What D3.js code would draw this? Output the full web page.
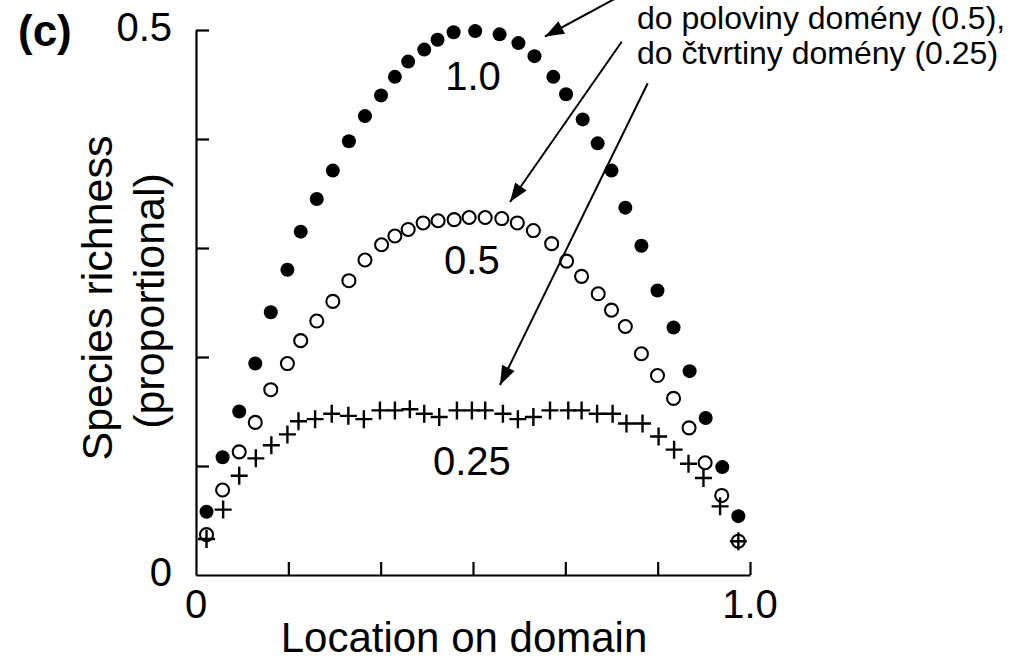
<!DOCTYPE html>
<html>
<head>
<meta charset="utf-8">
<script src="https://cdn.jsdelivr.net/npm/d3@7"></script>
<style>
  html, body { margin: 0; padding: 0; background: #fff; }
  svg { display: block; }
  text { font-family: "Liberation Sans", Arial, sans-serif; fill: #000; }
</style>
</head>
<body>
<svg id="chart" width="1013" height="662"></svg>
<script>
// ---- Data ----
// Range size 1.0 (filled circles)
const locFull = [0.019,0.048,0.078,0.107,0.135,0.165,0.189,0.218,0.247,0.276,0.305,0.334,0.359,0.383,0.412,0.436,0.465,0.504,0.548,0.582,0.611,0.645,0.668,0.698,0.725,0.750,0.775,0.804,0.833,0.862,0.891,0.920,0.950,0.979];
const richFull = [0.058,0.108,0.150,0.194,0.241,0.280,0.315,0.345,0.371,0.398,0.421,0.440,0.457,0.471,0.482,0.491,0.498,0.499,0.496,0.488,0.476,0.457,0.441,0.418,0.396,0.371,0.337,0.302,0.261,0.227,0.187,0.144,0.099,0.054];
// Range size 0.5 (open circles)
const locHalf = [0.019,0.048,0.078,0.107,0.135,0.165,0.189,0.218,0.247,0.276,0.305,0.335,0.359,0.383,0.410,0.437,0.466,0.493,0.522,0.552,0.580,0.609,0.642,0.669,0.696,0.726,0.750,0.775,0.804,0.833,0.862,0.890,0.919,0.949,0.979];
const richHalf = [0.037,0.078,0.113,0.140,0.170,0.194,0.215,0.233,0.251,0.270,0.289,0.303,0.311,0.317,0.323,0.325,0.326,0.328,0.328,0.327,0.323,0.316,0.304,0.288,0.274,0.258,0.243,0.228,0.203,0.183,0.162,0.135,0.103,0.073,0.031];
// Range size 0.25 (crosses)
const locQuarter = [0.019,0.049,0.078,0.108,0.136,0.165,0.185,0.215,0.245,0.275,0.303,0.332,0.359,0.386,0.412,0.439,0.471,0.498,0.522,0.554,0.581,0.609,0.639,0.672,0.696,0.724,0.752,0.777,0.806,0.835,0.863,0.889,0.916,0.946,0.979];
const richQuarter = [0.033,0.060,0.091,0.107,0.119,0.129,0.141,0.143,0.148,0.146,0.143,0.151,0.151,0.152,0.148,0.145,0.151,0.151,0.151,0.148,0.143,0.145,0.151,0.151,0.151,0.148,0.148,0.139,0.139,0.127,0.115,0.102,0.089,0.063,0.031];

const yTickValues = [0.1, 0.2, 0.3, 0.4, 0.5];
const xTickValues = [1/6, 2/6, 3/6, 4/6, 5/6, 1];
const yTickLabels = [{v: 0, t: "0"}, {v: 0.5, t: "0.5"}];
const xTickLabels = [{v: 0, t: "0"}, {v: 1, t: "1.0"}];
const curveLabels = [
  {x: 0.50, y: 0.445, t: "1.0"},
  {x: 0.498, y: 0.276, t: "0.5"},
  {x: 0.498, y: 0.092, t: "0.25"}
];
const noteLines = ["do poloviny domény (0.5),", "do čtvrtiny domény (0.25)"];

// ---- Scales ----
const svg = d3.select("#chart");
const x = d3.scaleLinear().domain([0, 1]).range([196, 750]);
const y = d3.scaleLinear().domain([0, 0.5]).range([575, 30]);

// ---- Axes ----
const yAxis = d3.axisLeft(y).tickValues(yTickValues).tickSizeInner(-13).tickSizeOuter(0).tickFormat("");
const xAxis = d3.axisBottom(x).tickValues(xTickValues).tickSizeInner(-13).tickSizeOuter(0).tickFormat("");

const gy = svg.append("g").attr("transform", "translate(196,0)").call(yAxis);
const gx = svg.append("g").attr("transform", "translate(0,575)").call(xAxis);
[gy, gx].forEach(g => {
  g.select(".domain").attr("stroke", "#000").attr("stroke-width", 2.2);
  g.selectAll(".tick line").attr("stroke", "#000").attr("stroke-width", 2.2);
});

// tick labels
svg.append("g").selectAll("text").data(yTickLabels).join("text")
  .attr("x", 172).attr("y", d => y(d.v) + 11)
  .attr("text-anchor", "end").attr("font-size", 40).text(d => d.t);
svg.append("g").selectAll("text").data(xTickLabels).join("text")
  .attr("x", d => x(d.v)).attr("y", 618)
  .attr("text-anchor", "middle").attr("font-size", 40).text(d => d.t);

// axis titles
svg.append("text").attr("x", 464).attr("y", 652).attr("text-anchor", "middle")
  .attr("font-size", 42).text("Location on domain");
svg.append("text").attr("transform", "translate(112,298) rotate(-90)").attr("text-anchor", "middle")
  .attr("font-size", 43).text("Species richness");
svg.append("text").attr("transform", "translate(164,301) rotate(-90)").attr("text-anchor", "middle")
  .attr("font-size", 43).text("(proportional)");

// panel label
svg.append("text").attr("x", 18).attr("y", 46).attr("font-size", 44).attr("font-weight", "bold").text("(c)");

// ---- Arrows ----
const defs = svg.append("defs");
defs.append("marker").attr("id", "ah").attr("markerUnits", "userSpaceOnUse")
  .attr("viewBox", "-20 -8 22 16").attr("refX", 0).attr("refY", 0)
  .attr("markerWidth", 22).attr("markerHeight", 16).attr("orient", "auto")
  .append("path").attr("d", "M0,0L-19,-7L-19,7Z").attr("fill", "#000");

const arrows = [
  [[620, -4], [545, 36.5]],
  [[621.7, 41.7], [510, 202]],
  [[647.7, 83.3], [500, 385]]
];
svg.append("g").selectAll("line").data(arrows).join("line")
  .attr("x1", d => d[0][0]).attr("y1", d => d[0][1])
  .attr("x2", d => d[1][0]).attr("y2", d => d[1][1])
  .attr("stroke", "#000").attr("stroke-width", 2).attr("marker-end", "url(#ah)");

// annotation text
svg.append("g").selectAll("text").data(noteLines).join("text")
  .attr("x", 637).attr("y", (d, i) => 29 + i * 35)
  .attr("font-size", 32).text(d => d);

// ---- Markers ----
const full = locFull.map((v, i) => [v, richFull[i]]);
const half = locHalf.map((v, i) => [v, richHalf[i]]);
const quarter = locQuarter.map((v, i) => [v, richQuarter[i]]);

svg.append("g").selectAll("circle").data(full).join("circle")
  .attr("cx", d => x(d[0])).attr("cy", d => y(d[1])).attr("r", 7).attr("fill", "#000");

svg.append("g").selectAll("circle").data(half).join("circle")
  .attr("cx", d => x(d[0])).attr("cy", d => y(d[1])).attr("r", 6.5)
  .attr("fill", "none").attr("stroke", "#000").attr("stroke-width", 2.1);

svg.append("g").selectAll("path").data(quarter).join("path")
  .attr("transform", d => `translate(${x(d[0])},${y(d[1])})`)
  .attr("d", "M-8.5,0H8.5M0,-9V9")
  .attr("stroke", "#000").attr("stroke-width", 2.4).attr("fill", "none");

// curve labels
svg.append("g").selectAll("text").data(curveLabels).join("text")
  .attr("x", d => x(d.x)).attr("y", d => y(d.y))
  .attr("text-anchor", "middle").attr("font-size", 40).text(d => d.t);
</script>
</body>
</html>
